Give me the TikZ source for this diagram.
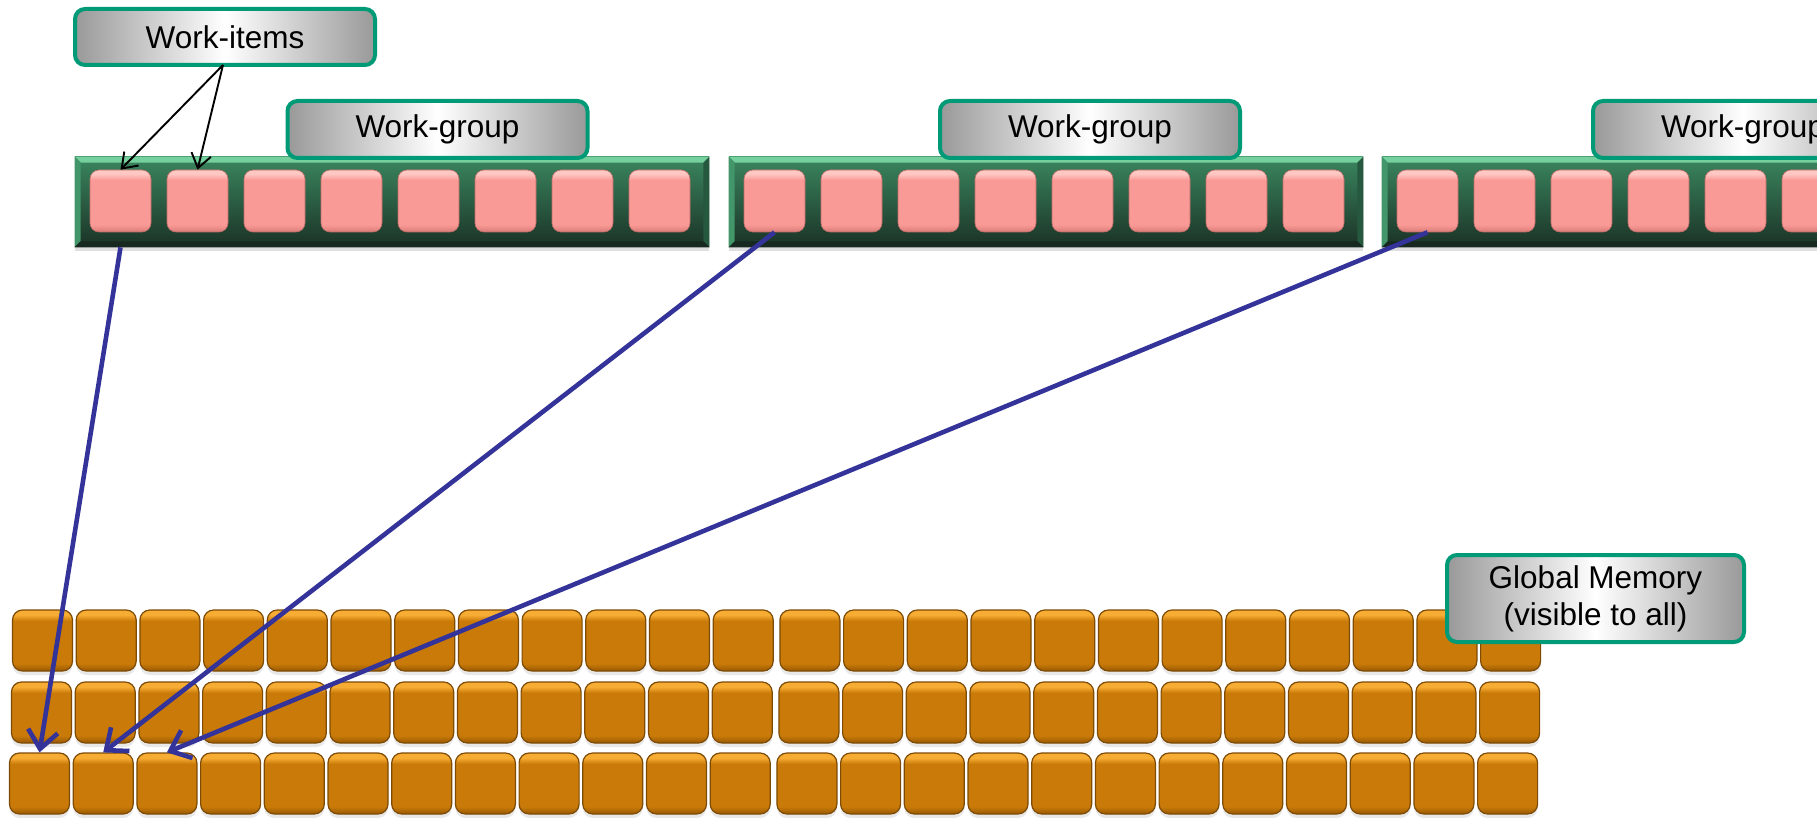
\documentclass[tikz,border=0pt]{standalone}
\usepackage{fontspec}
\setmainfont{Liberation Sans}
\usetikzlibrary{arrows.meta,calc,shadows}
\definecolor{lblgreen}{RGB}{0,155,118}
\definecolor{navyline}{RGB}{51,51,153}
\definecolor{pinkbase}{RGB}{250,154,150}
\definecolor{pinklight}{RGB}{255,200,195}
\definecolor{pinkdark}{RGB}{222,128,124}
\definecolor{orbase}{RGB}{201,122,8}
\definecolor{orlight}{RGB}{247,172,52}
\definecolor{ordark}{RGB}{160,94,5}
\definecolor{orborder}{RGB}{125,75,5}
\definecolor{bartop}{RGB}{58,134,95}
\definecolor{barbot}{RGB}{27,50,38}
\definecolor{bevtop}{RGB}{118,208,158}
\definecolor{bevleft}{RGB}{66,150,106}
\definecolor{bevright}{RGB}{38,88,63}
\definecolor{bevbot}{RGB}{22,40,31}
\pgfdeclareverticalshading{pinkshade}{100bp}{color(0bp)=(pinkdark); color(26bp)=(pinkdark); color(31bp)=(pinkbase); color(67bp)=(pinkbase); color(72bp)=(pinklight); color(100bp)=(pinklight)}
\pgfdeclareverticalshading{orshade}{100bp}{color(0bp)=(ordark); color(26bp)=(ordark); color(31bp)=(orbase); color(66bp)=(orbase); color(71bp)=(orlight); color(100bp)=(orlight)}
\tikzset{
  lbl/.style={draw=lblgreen, line width=2pt, rounded corners=5pt,
    left color=gray!80, right color=gray!80, middle color=white,
    font=\fontsize{15.75}{18.5}\selectfont, align=center, inner sep=0pt},
  barbox/.style={rectangle, minimum width=317pt, minimum height=45pt, inner sep=0pt,
    top color=bartop, bottom color=barbot,
    drop shadow={opacity=0.25, shadow xshift=0pt, shadow yshift=-2pt}},
  pinksq/.style={rectangle, rounded corners=4.5pt, minimum width=30.5pt, minimum height=31pt,
    inner sep=0pt, shading=pinkshade, draw=pinkdark!85!black, line width=0.3pt},
  orsq/.style={rectangle, rounded corners=5pt, minimum width=30pt, minimum height=30.5pt,
    inner sep=0pt, shading=orshade, draw=orborder, line width=0.6pt,
    drop shadow={opacity=0.18, shadow xshift=0pt, shadow yshift=-2pt}},
  bluearrow/.style={draw=navyline, line width=2.3pt, -{Straight Barb[length=9pt,width=15pt]}},
  blackarrow/.style={draw=black, line width=0.95pt, -{Straight Barb[length=7pt,width=10pt]}}
}
\begin{document}
\begin{tikzpicture}[x=0.5pt,y=-0.5pt]
\useasboundingbox (0,0) rectangle (1817,818);
\clip (0,0) rectangle (1817,818);
\fill[white] (0,0) rectangle (1817,818);

% work-group bars with work-items
\foreach \i/\xl in {1/75, 2/729, 3/1382} {
  \node[barbox] (bar\i) at (\xl+317, 202) {};
  \fill[bevtop] (bar\i.north west) -- (bar\i.north east) -- ([xshift=-3pt,yshift=-3pt]bar\i.north east) -- ([xshift=3pt,yshift=-3pt]bar\i.north west) -- cycle;
  \fill[bevleft] (bar\i.north west) -- ([xshift=3pt,yshift=-3pt]bar\i.north west) -- ([xshift=3pt,yshift=3pt]bar\i.south west) -- (bar\i.south west) -- cycle;
  \fill[bevright] (bar\i.north east) -- ([xshift=-3pt,yshift=-3pt]bar\i.north east) -- ([xshift=-3pt,yshift=3pt]bar\i.south east) -- (bar\i.south east) -- cycle;
  \fill[bevbot] (bar\i.south west) -- ([xshift=3pt,yshift=3pt]bar\i.south west) -- ([xshift=-3pt,yshift=3pt]bar\i.south east) -- (bar\i.south east) -- cycle;
  \foreach \k in {1,...,8} {
    \node[pinksq] (p\i-\k) at (\xl+45.5+77*\k-77, 201) {};
  }
}

% global memory
\foreach \r/\yc/\xo in {1/640.5/12, 2/712.5/11, 3/783.5/9} {
  \foreach \c in {0,...,23} {
    \pgfmathsetmacro{\xc}{\xo+30.5+63.7*\c+(\c>11?3:0)}
    \node[orsq] (o\r-\c) at (\xc, \yc) {};
  }
}

% labels
\node[lbl, minimum width=150pt, minimum height=28pt] (wi) at (225,37) {Work-items};
\node[lbl, minimum width=150pt, minimum height=28.5pt] (wg1) at (437.5,129.5) {Work-group};
\node[lbl, minimum width=150pt, minimum height=28.5pt] (wg2) at (1090,129.5) {Work-group};
\node[lbl, minimum width=150pt, minimum height=28.5pt] (wg3) at (1743,129.5) {Work-group};
\node[lbl, minimum width=148.5pt, minimum height=43.5pt] (gm) at (1595.5,598.5) {Global Memory\\(visible to all)};

% connectors
\draw[blackarrow] ([xshift=-1pt,yshift=1pt]wi.south) -- (p1-1.north);
\draw[blackarrow] ([xshift=-1pt,yshift=1pt]wi.south) -- (p1-2.north);
\draw[bluearrow] (p1-1 |- bar1.south) -- (o3-0.north);
\draw[bluearrow] (p2-1.south) -- (o3-1.north);
\draw[bluearrow] (p3-1.south) -- (o3-2.north);
\end{tikzpicture}
\end{document}
